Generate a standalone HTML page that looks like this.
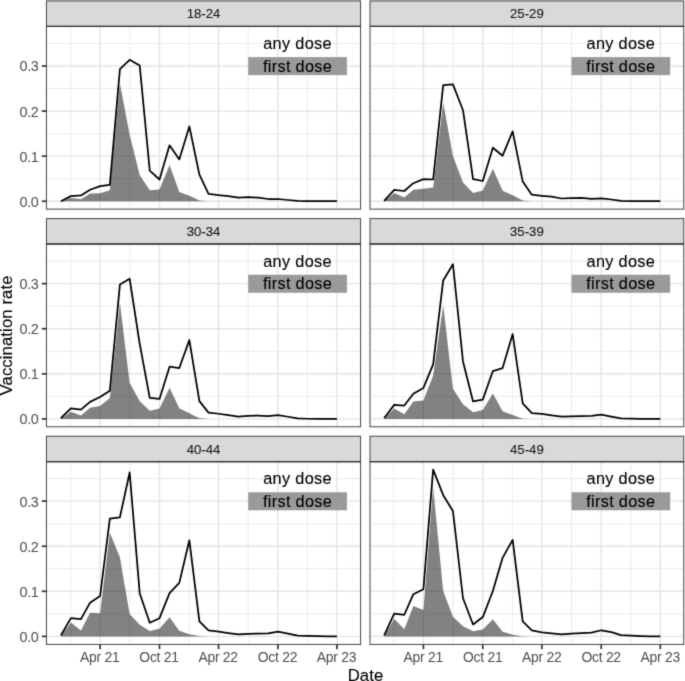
<!DOCTYPE html>
<html><head><meta charset="utf-8"><title>Vaccination rate</title>
<style>html,body{margin:0;padding:0;background:#fff;}svg{will-change:transform;}body{width:685px;height:681px;overflow:hidden;font-family:"Liberation Sans",sans-serif;}</style></head>
<body>
<svg width="685" height="681" viewBox="0 0 685 681" style="display:block;font-family:'Liberation Sans',sans-serif">
<rect x="0" y="0" width="685" height="681" fill="#ffffff"/>
<defs><filter id="soft" color-interpolation-filters="sRGB" x="0" y="0" width="685" height="681" filterUnits="userSpaceOnUse"><feConvolveMatrix order="3" kernelMatrix="0.01690 0.09620 0.01690 0.09620 0.54760 0.09620 0.01690 0.09620 0.01690" edgeMode="duplicate" preserveAlpha="true"/></filter></defs>
<g filter="url(#soft)"><rect x="-5" y="-5" width="695" height="691" fill="#fff"/><g transform="translate(0,0.45)">
<g>
<rect x="46.45" y="25.9" width="314.1" height="182.8" fill="#fff"/>
<line x1="46.45" x2="360.55" y1="178.26" y2="178.26" stroke="#e4e4e4" stroke-width="0.75"/>
<line x1="46.45" x2="360.55" y1="133.18" y2="133.18" stroke="#e4e4e4" stroke-width="0.75"/>
<line x1="46.45" x2="360.55" y1="88.10" y2="88.10" stroke="#e4e4e4" stroke-width="0.75"/>
<line x1="46.45" x2="360.55" y1="43.02" y2="43.02" stroke="#e4e4e4" stroke-width="0.75"/>
<line x1="70.42" x2="70.42" y1="25.9" y2="208.70000000000002" stroke="#e4e4e4" stroke-width="0.75"/>
<line x1="129.81" x2="129.81" y1="25.9" y2="208.70000000000002" stroke="#e4e4e4" stroke-width="0.75"/>
<line x1="189.03" x2="189.03" y1="25.9" y2="208.70000000000002" stroke="#e4e4e4" stroke-width="0.75"/>
<line x1="248.25" x2="248.25" y1="25.9" y2="208.70000000000002" stroke="#e4e4e4" stroke-width="0.75"/>
<line x1="307.47" x2="307.47" y1="25.9" y2="208.70000000000002" stroke="#e4e4e4" stroke-width="0.75"/>
<line x1="46.45" x2="360.55" y1="200.80" y2="200.80" stroke="#e4e4e4" stroke-width="1.4"/>
<line x1="46.45" x2="360.55" y1="155.72" y2="155.72" stroke="#e4e4e4" stroke-width="1.4"/>
<line x1="46.45" x2="360.55" y1="110.64" y2="110.64" stroke="#e4e4e4" stroke-width="1.4"/>
<line x1="46.45" x2="360.55" y1="65.56" y2="65.56" stroke="#e4e4e4" stroke-width="1.4"/>
<line x1="100.11" x2="100.11" y1="25.9" y2="208.70000000000002" stroke="#e4e4e4" stroke-width="1.4"/>
<line x1="159.50" x2="159.50" y1="25.9" y2="208.70000000000002" stroke="#e4e4e4" stroke-width="1.4"/>
<line x1="218.56" x2="218.56" y1="25.9" y2="208.70000000000002" stroke="#e4e4e4" stroke-width="1.4"/>
<line x1="277.94" x2="277.94" y1="25.9" y2="208.70000000000002" stroke="#e4e4e4" stroke-width="1.4"/>
<line x1="337.00" x2="337.00" y1="25.9" y2="208.70000000000002" stroke="#e4e4e4" stroke-width="1.4"/>
<polygon points="60.85,200.75 70.91,197.45 80.97,198.85 90.06,193.05 100.11,192.75 109.85,189.75 119.91,82.85 129.64,134.25 139.70,174.65 149.76,189.75 159.50,189.05 169.56,164.65 179.29,191.55 189.35,195.25 199.41,200.05 208.50,200.80 218.56,200.80 228.29,200.80 238.35,200.80 248.09,200.80 258.15,200.80 268.21,200.80 277.94,200.80 288.00,200.80 297.74,200.80 307.79,200.80 317.85,200.80 326.94,200.80 337.00,200.80 337.00,200.80 60.85,200.80" fill="rgba(0,0,0,0.49)"/>
<polyline points="60.85,200.75 70.91,195.65 80.97,194.95 90.06,189.35 100.11,185.65 109.85,184.45 119.91,68.65 129.64,59.35 139.70,65.05 149.76,170.25 159.50,179.05 169.56,144.85 179.29,158.95 189.35,125.95 199.41,174.25 208.50,193.45 218.56,194.75 228.29,195.65 238.35,197.15 248.09,196.75 258.15,197.15 268.21,198.55 277.94,198.55 288.00,199.55 297.74,200.35 307.79,200.65 317.85,200.75 326.94,200.75 337.00,200.75" fill="none" stroke="#000" stroke-width="1.75" stroke-linejoin="round" stroke-linecap="butt"/>
<rect x="248.20" y="56.64" width="98.70" height="18.03" fill="#9a9a9a"/>
<text x="297.55" y="48.57" font-size="16.3" letter-spacing="0.32" text-anchor="middle" fill="#000" stroke="#000" stroke-width="0.12">any dose</text>
<text x="297.55" y="71.11" font-size="16.3" letter-spacing="0.32" text-anchor="middle" fill="#000" stroke="#000" stroke-width="0.12">first dose</text>
<rect x="46.45" y="25.9" width="314.1" height="182.8" fill="none" stroke="#4d4d4d" stroke-width="1.05"/>
<rect x="46.45" y="0.5" width="314.1" height="25.4" fill="#d9d9d9" stroke="#4d4d4d" stroke-width="1.05"/>
<line x1="46.45" x2="360.55" y1="25.9" y2="25.9" stroke="#333" stroke-width="1.25"/>
<text x="203.50" y="18.00" font-size="13.2" text-anchor="middle" fill="#1a1a1a" stroke="#1a1a1a" stroke-width="0.12">18-24</text>
<line x1="41.75" x2="46.45" y1="200.80" y2="200.80" stroke="#333333" stroke-width="1.7"/>
<text x="38.35" y="206.25" font-size="14.4" letter-spacing="-0.4" text-anchor="end" fill="#4d4d4d">0.0</text>
<line x1="41.75" x2="46.45" y1="155.72" y2="155.72" stroke="#333333" stroke-width="1.7"/>
<text x="38.35" y="161.17" font-size="14.4" letter-spacing="-0.4" text-anchor="end" fill="#4d4d4d">0.1</text>
<line x1="41.75" x2="46.45" y1="110.64" y2="110.64" stroke="#333333" stroke-width="1.7"/>
<text x="38.35" y="116.09" font-size="14.4" letter-spacing="-0.4" text-anchor="end" fill="#4d4d4d">0.2</text>
<line x1="41.75" x2="46.45" y1="65.56" y2="65.56" stroke="#333333" stroke-width="1.7"/>
<text x="38.35" y="71.01" font-size="14.4" letter-spacing="-0.4" text-anchor="end" fill="#4d4d4d">0.3</text>
</g>
<g>
<rect x="370.0" y="25.9" width="313.75" height="182.8" fill="#fff"/>
<line x1="370.0" x2="683.75" y1="178.26" y2="178.26" stroke="#e4e4e4" stroke-width="0.75"/>
<line x1="370.0" x2="683.75" y1="133.18" y2="133.18" stroke="#e4e4e4" stroke-width="0.75"/>
<line x1="370.0" x2="683.75" y1="88.10" y2="88.10" stroke="#e4e4e4" stroke-width="0.75"/>
<line x1="370.0" x2="683.75" y1="43.02" y2="43.02" stroke="#e4e4e4" stroke-width="0.75"/>
<line x1="393.72" x2="393.72" y1="25.9" y2="208.70000000000002" stroke="#e4e4e4" stroke-width="0.75"/>
<line x1="453.11" x2="453.11" y1="25.9" y2="208.70000000000002" stroke="#e4e4e4" stroke-width="0.75"/>
<line x1="512.33" x2="512.33" y1="25.9" y2="208.70000000000002" stroke="#e4e4e4" stroke-width="0.75"/>
<line x1="571.55" x2="571.55" y1="25.9" y2="208.70000000000002" stroke="#e4e4e4" stroke-width="0.75"/>
<line x1="630.77" x2="630.77" y1="25.9" y2="208.70000000000002" stroke="#e4e4e4" stroke-width="0.75"/>
<line x1="370.0" x2="683.75" y1="200.80" y2="200.80" stroke="#e4e4e4" stroke-width="1.4"/>
<line x1="370.0" x2="683.75" y1="155.72" y2="155.72" stroke="#e4e4e4" stroke-width="1.4"/>
<line x1="370.0" x2="683.75" y1="110.64" y2="110.64" stroke="#e4e4e4" stroke-width="1.4"/>
<line x1="370.0" x2="683.75" y1="65.56" y2="65.56" stroke="#e4e4e4" stroke-width="1.4"/>
<line x1="423.41" x2="423.41" y1="25.9" y2="208.70000000000002" stroke="#e4e4e4" stroke-width="1.4"/>
<line x1="482.80" x2="482.80" y1="25.9" y2="208.70000000000002" stroke="#e4e4e4" stroke-width="1.4"/>
<line x1="541.86" x2="541.86" y1="25.9" y2="208.70000000000002" stroke="#e4e4e4" stroke-width="1.4"/>
<line x1="601.24" x2="601.24" y1="25.9" y2="208.70000000000002" stroke="#e4e4e4" stroke-width="1.4"/>
<line x1="660.30" x2="660.30" y1="25.9" y2="208.70000000000002" stroke="#e4e4e4" stroke-width="1.4"/>
<polygon points="384.15,200.75 394.21,192.55 404.27,196.95 413.36,189.35 423.41,188.35 433.15,187.15 443.21,102.35 452.94,155.55 463.00,182.05 473.06,192.55 482.80,190.05 492.86,168.35 502.59,190.35 512.65,194.75 522.71,200.05 531.80,200.80 541.86,200.80 551.59,200.80 561.65,200.80 571.39,200.80 581.45,200.80 591.51,200.80 601.24,200.80 611.30,200.80 621.04,200.80 631.09,200.80 641.15,200.80 650.24,200.80 660.30,200.80 660.30,200.80 384.15,200.80" fill="rgba(0,0,0,0.49)"/>
<polyline points="384.15,200.35 394.21,189.35 404.27,190.55 413.36,182.75 423.41,178.65 433.15,179.05 443.21,84.65 452.94,83.95 463.00,109.75 473.06,178.75 482.80,180.55 492.86,147.25 502.59,155.25 512.65,130.95 522.71,180.95 531.80,194.25 541.86,195.35 551.59,196.25 561.65,198.05 571.39,197.65 581.45,197.45 591.51,198.35 601.24,197.95 611.30,199.05 621.04,200.35 631.09,200.65 641.15,200.75 650.24,200.75 660.30,200.75" fill="none" stroke="#000" stroke-width="1.75" stroke-linejoin="round" stroke-linecap="butt"/>
<rect x="571.50" y="56.64" width="98.70" height="18.03" fill="#9a9a9a"/>
<text x="620.85" y="48.57" font-size="16.3" letter-spacing="0.32" text-anchor="middle" fill="#000" stroke="#000" stroke-width="0.12">any dose</text>
<text x="620.85" y="71.11" font-size="16.3" letter-spacing="0.32" text-anchor="middle" fill="#000" stroke="#000" stroke-width="0.12">first dose</text>
<rect x="370.0" y="25.9" width="313.75" height="182.8" fill="none" stroke="#4d4d4d" stroke-width="1.05"/>
<rect x="370.0" y="0.5" width="313.75" height="25.4" fill="#d9d9d9" stroke="#4d4d4d" stroke-width="1.05"/>
<line x1="370.0" x2="683.75" y1="25.9" y2="25.9" stroke="#333" stroke-width="1.25"/>
<text x="526.88" y="18.00" font-size="13.2" text-anchor="middle" fill="#1a1a1a" stroke="#1a1a1a" stroke-width="0.12">25-29</text>
</g>
<g>
<rect x="46.45" y="243.5" width="314.1" height="182.8" fill="#fff"/>
<line x1="46.45" x2="360.55" y1="395.91" y2="395.91" stroke="#e4e4e4" stroke-width="0.75"/>
<line x1="46.45" x2="360.55" y1="350.83" y2="350.83" stroke="#e4e4e4" stroke-width="0.75"/>
<line x1="46.45" x2="360.55" y1="305.75" y2="305.75" stroke="#e4e4e4" stroke-width="0.75"/>
<line x1="46.45" x2="360.55" y1="260.67" y2="260.67" stroke="#e4e4e4" stroke-width="0.75"/>
<line x1="70.42" x2="70.42" y1="243.5" y2="426.3" stroke="#e4e4e4" stroke-width="0.75"/>
<line x1="129.81" x2="129.81" y1="243.5" y2="426.3" stroke="#e4e4e4" stroke-width="0.75"/>
<line x1="189.03" x2="189.03" y1="243.5" y2="426.3" stroke="#e4e4e4" stroke-width="0.75"/>
<line x1="248.25" x2="248.25" y1="243.5" y2="426.3" stroke="#e4e4e4" stroke-width="0.75"/>
<line x1="307.47" x2="307.47" y1="243.5" y2="426.3" stroke="#e4e4e4" stroke-width="0.75"/>
<line x1="46.45" x2="360.55" y1="418.45" y2="418.45" stroke="#e4e4e4" stroke-width="1.4"/>
<line x1="46.45" x2="360.55" y1="373.37" y2="373.37" stroke="#e4e4e4" stroke-width="1.4"/>
<line x1="46.45" x2="360.55" y1="328.29" y2="328.29" stroke="#e4e4e4" stroke-width="1.4"/>
<line x1="46.45" x2="360.55" y1="283.21" y2="283.21" stroke="#e4e4e4" stroke-width="1.4"/>
<line x1="100.11" x2="100.11" y1="243.5" y2="426.3" stroke="#e4e4e4" stroke-width="1.4"/>
<line x1="159.50" x2="159.50" y1="243.5" y2="426.3" stroke="#e4e4e4" stroke-width="1.4"/>
<line x1="218.56" x2="218.56" y1="243.5" y2="426.3" stroke="#e4e4e4" stroke-width="1.4"/>
<line x1="277.94" x2="277.94" y1="243.5" y2="426.3" stroke="#e4e4e4" stroke-width="1.4"/>
<line x1="337.00" x2="337.00" y1="243.5" y2="426.3" stroke="#e4e4e4" stroke-width="1.4"/>
<polygon points="60.85,418.45 70.91,411.30 80.97,415.10 90.06,407.30 100.11,405.50 109.85,397.50 119.91,302.20 129.64,382.30 139.70,400.80 149.76,410.20 159.50,408.00 169.56,387.20 179.29,407.70 189.35,412.70 199.41,417.90 208.50,418.45 218.56,418.45 228.29,418.45 238.35,418.45 248.09,418.45 258.15,418.45 268.21,418.45 277.94,418.45 288.00,418.45 297.74,418.45 307.79,418.45 317.85,418.45 326.94,418.45 337.00,418.45 337.00,418.45 60.85,418.45" fill="rgba(0,0,0,0.49)"/>
<polyline points="60.85,417.80 70.91,408.00 80.97,409.10 90.06,401.40 100.11,396.60 109.85,390.40 119.91,284.10 129.64,278.30 139.70,343.30 149.76,397.50 159.50,398.50 169.56,366.20 179.29,367.60 189.35,339.70 199.41,400.70 208.50,412.20 218.56,413.30 228.29,414.70 238.35,416.20 248.09,415.40 258.15,415.10 268.21,415.60 277.94,414.70 288.00,416.30 297.74,418.00 307.79,418.30 317.85,418.40 326.94,418.45 337.00,418.45" fill="none" stroke="#000" stroke-width="1.75" stroke-linejoin="round" stroke-linecap="butt"/>
<rect x="248.20" y="274.29" width="98.70" height="18.03" fill="#9a9a9a"/>
<text x="297.55" y="266.22" font-size="16.3" letter-spacing="0.32" text-anchor="middle" fill="#000" stroke="#000" stroke-width="0.12">any dose</text>
<text x="297.55" y="288.76" font-size="16.3" letter-spacing="0.32" text-anchor="middle" fill="#000" stroke="#000" stroke-width="0.12">first dose</text>
<rect x="46.45" y="243.5" width="314.1" height="182.8" fill="none" stroke="#4d4d4d" stroke-width="1.05"/>
<rect x="46.45" y="218.1" width="314.1" height="25.4" fill="#d9d9d9" stroke="#4d4d4d" stroke-width="1.05"/>
<line x1="46.45" x2="360.55" y1="243.5" y2="243.5" stroke="#333" stroke-width="1.25"/>
<text x="203.50" y="235.60" font-size="13.2" text-anchor="middle" fill="#1a1a1a" stroke="#1a1a1a" stroke-width="0.12">30-34</text>
<line x1="41.75" x2="46.45" y1="418.45" y2="418.45" stroke="#333333" stroke-width="1.7"/>
<text x="38.35" y="423.90" font-size="14.4" letter-spacing="-0.4" text-anchor="end" fill="#4d4d4d">0.0</text>
<line x1="41.75" x2="46.45" y1="373.37" y2="373.37" stroke="#333333" stroke-width="1.7"/>
<text x="38.35" y="378.82" font-size="14.4" letter-spacing="-0.4" text-anchor="end" fill="#4d4d4d">0.1</text>
<line x1="41.75" x2="46.45" y1="328.29" y2="328.29" stroke="#333333" stroke-width="1.7"/>
<text x="38.35" y="333.74" font-size="14.4" letter-spacing="-0.4" text-anchor="end" fill="#4d4d4d">0.2</text>
<line x1="41.75" x2="46.45" y1="283.21" y2="283.21" stroke="#333333" stroke-width="1.7"/>
<text x="38.35" y="288.66" font-size="14.4" letter-spacing="-0.4" text-anchor="end" fill="#4d4d4d">0.3</text>
</g>
<g>
<rect x="370.0" y="243.5" width="313.75" height="182.8" fill="#fff"/>
<line x1="370.0" x2="683.75" y1="395.91" y2="395.91" stroke="#e4e4e4" stroke-width="0.75"/>
<line x1="370.0" x2="683.75" y1="350.83" y2="350.83" stroke="#e4e4e4" stroke-width="0.75"/>
<line x1="370.0" x2="683.75" y1="305.75" y2="305.75" stroke="#e4e4e4" stroke-width="0.75"/>
<line x1="370.0" x2="683.75" y1="260.67" y2="260.67" stroke="#e4e4e4" stroke-width="0.75"/>
<line x1="393.72" x2="393.72" y1="243.5" y2="426.3" stroke="#e4e4e4" stroke-width="0.75"/>
<line x1="453.11" x2="453.11" y1="243.5" y2="426.3" stroke="#e4e4e4" stroke-width="0.75"/>
<line x1="512.33" x2="512.33" y1="243.5" y2="426.3" stroke="#e4e4e4" stroke-width="0.75"/>
<line x1="571.55" x2="571.55" y1="243.5" y2="426.3" stroke="#e4e4e4" stroke-width="0.75"/>
<line x1="630.77" x2="630.77" y1="243.5" y2="426.3" stroke="#e4e4e4" stroke-width="0.75"/>
<line x1="370.0" x2="683.75" y1="418.45" y2="418.45" stroke="#e4e4e4" stroke-width="1.4"/>
<line x1="370.0" x2="683.75" y1="373.37" y2="373.37" stroke="#e4e4e4" stroke-width="1.4"/>
<line x1="370.0" x2="683.75" y1="328.29" y2="328.29" stroke="#e4e4e4" stroke-width="1.4"/>
<line x1="370.0" x2="683.75" y1="283.21" y2="283.21" stroke="#e4e4e4" stroke-width="1.4"/>
<line x1="423.41" x2="423.41" y1="243.5" y2="426.3" stroke="#e4e4e4" stroke-width="1.4"/>
<line x1="482.80" x2="482.80" y1="243.5" y2="426.3" stroke="#e4e4e4" stroke-width="1.4"/>
<line x1="541.86" x2="541.86" y1="243.5" y2="426.3" stroke="#e4e4e4" stroke-width="1.4"/>
<line x1="601.24" x2="601.24" y1="243.5" y2="426.3" stroke="#e4e4e4" stroke-width="1.4"/>
<line x1="660.30" x2="660.30" y1="243.5" y2="426.3" stroke="#e4e4e4" stroke-width="1.4"/>
<polygon points="384.15,418.45 394.21,408.00 404.27,413.90 413.36,401.10 423.41,400.00 433.15,375.00 443.21,304.80 452.94,388.20 463.00,403.90 473.06,411.70 482.80,409.50 492.86,393.00 502.59,410.70 512.65,414.60 522.71,418.20 531.80,418.45 541.86,418.45 551.59,418.45 561.65,418.45 571.39,418.45 581.45,418.45 591.51,418.45 601.24,418.45 611.30,418.45 621.04,418.45 631.09,418.45 641.15,418.45 650.24,418.45 660.30,418.45 660.30,418.45 384.15,418.45" fill="rgba(0,0,0,0.49)"/>
<polyline points="384.15,417.80 394.21,404.40 404.27,405.10 413.36,393.30 423.41,387.50 433.15,364.00 443.21,280.00 452.94,263.80 463.00,361.00 473.06,401.00 482.80,399.20 492.86,370.60 502.59,367.60 512.65,333.60 522.71,402.90 531.80,412.60 541.86,413.50 551.59,414.90 561.65,416.20 571.39,415.90 581.45,415.60 591.51,415.40 601.24,414.20 611.30,416.10 621.04,418.00 631.09,418.20 641.15,418.40 650.24,418.45 660.30,418.45" fill="none" stroke="#000" stroke-width="1.75" stroke-linejoin="round" stroke-linecap="butt"/>
<rect x="571.50" y="274.29" width="98.70" height="18.03" fill="#9a9a9a"/>
<text x="620.85" y="266.22" font-size="16.3" letter-spacing="0.32" text-anchor="middle" fill="#000" stroke="#000" stroke-width="0.12">any dose</text>
<text x="620.85" y="288.76" font-size="16.3" letter-spacing="0.32" text-anchor="middle" fill="#000" stroke="#000" stroke-width="0.12">first dose</text>
<rect x="370.0" y="243.5" width="313.75" height="182.8" fill="none" stroke="#4d4d4d" stroke-width="1.05"/>
<rect x="370.0" y="218.1" width="313.75" height="25.4" fill="#d9d9d9" stroke="#4d4d4d" stroke-width="1.05"/>
<line x1="370.0" x2="683.75" y1="243.5" y2="243.5" stroke="#333" stroke-width="1.25"/>
<text x="526.88" y="235.60" font-size="13.2" text-anchor="middle" fill="#1a1a1a" stroke="#1a1a1a" stroke-width="0.12">35-39</text>
</g>
<g>
<rect x="46.45" y="461.2" width="314.1" height="182.8" fill="#fff"/>
<line x1="46.45" x2="360.55" y1="613.41" y2="613.41" stroke="#e4e4e4" stroke-width="0.75"/>
<line x1="46.45" x2="360.55" y1="568.33" y2="568.33" stroke="#e4e4e4" stroke-width="0.75"/>
<line x1="46.45" x2="360.55" y1="523.25" y2="523.25" stroke="#e4e4e4" stroke-width="0.75"/>
<line x1="46.45" x2="360.55" y1="478.17" y2="478.17" stroke="#e4e4e4" stroke-width="0.75"/>
<line x1="70.42" x2="70.42" y1="461.2" y2="644.0" stroke="#e4e4e4" stroke-width="0.75"/>
<line x1="129.81" x2="129.81" y1="461.2" y2="644.0" stroke="#e4e4e4" stroke-width="0.75"/>
<line x1="189.03" x2="189.03" y1="461.2" y2="644.0" stroke="#e4e4e4" stroke-width="0.75"/>
<line x1="248.25" x2="248.25" y1="461.2" y2="644.0" stroke="#e4e4e4" stroke-width="0.75"/>
<line x1="307.47" x2="307.47" y1="461.2" y2="644.0" stroke="#e4e4e4" stroke-width="0.75"/>
<line x1="46.45" x2="360.55" y1="635.95" y2="635.95" stroke="#e4e4e4" stroke-width="1.4"/>
<line x1="46.45" x2="360.55" y1="590.87" y2="590.87" stroke="#e4e4e4" stroke-width="1.4"/>
<line x1="46.45" x2="360.55" y1="545.79" y2="545.79" stroke="#e4e4e4" stroke-width="1.4"/>
<line x1="46.45" x2="360.55" y1="500.71" y2="500.71" stroke="#e4e4e4" stroke-width="1.4"/>
<line x1="100.11" x2="100.11" y1="461.2" y2="644.0" stroke="#e4e4e4" stroke-width="1.4"/>
<line x1="159.50" x2="159.50" y1="461.2" y2="644.0" stroke="#e4e4e4" stroke-width="1.4"/>
<line x1="218.56" x2="218.56" y1="461.2" y2="644.0" stroke="#e4e4e4" stroke-width="1.4"/>
<line x1="277.94" x2="277.94" y1="461.2" y2="644.0" stroke="#e4e4e4" stroke-width="1.4"/>
<line x1="337.00" x2="337.00" y1="461.2" y2="644.0" stroke="#e4e4e4" stroke-width="1.4"/>
<polygon points="60.85,635.92 70.91,622.12 80.97,630.12 90.06,612.22 100.11,612.82 109.85,532.42 119.91,556.72 129.64,613.52 139.70,624.32 149.76,630.62 159.50,628.42 169.56,616.92 179.29,630.42 189.35,633.82 199.41,635.62 208.50,635.95 218.56,635.95 228.29,635.95 238.35,635.95 248.09,635.95 258.15,635.95 268.21,635.95 277.94,635.95 288.00,635.95 297.74,635.95 307.79,635.95 317.85,635.95 326.94,635.95 337.00,635.95 337.00,635.95 60.85,635.95" fill="rgba(0,0,0,0.49)"/>
<polyline points="60.85,635.02 70.91,617.72 80.97,618.72 90.06,602.22 100.11,595.62 109.85,518.22 119.91,516.82 129.64,472.02 139.70,592.72 149.76,622.32 159.50,617.72 169.56,592.72 179.29,582.42 189.35,539.82 199.41,621.02 208.50,629.92 218.56,631.22 228.29,632.62 238.35,633.92 248.09,633.32 258.15,633.12 268.21,632.82 277.94,631.22 288.00,633.12 297.74,635.22 307.79,635.42 317.85,635.72 326.94,635.82 337.00,635.92" fill="none" stroke="#000" stroke-width="1.75" stroke-linejoin="round" stroke-linecap="butt"/>
<rect x="248.20" y="491.79" width="98.70" height="18.03" fill="#9a9a9a"/>
<text x="297.55" y="483.72" font-size="16.3" letter-spacing="0.32" text-anchor="middle" fill="#000" stroke="#000" stroke-width="0.12">any dose</text>
<text x="297.55" y="506.26" font-size="16.3" letter-spacing="0.32" text-anchor="middle" fill="#000" stroke="#000" stroke-width="0.12">first dose</text>
<rect x="46.45" y="461.2" width="314.1" height="182.8" fill="none" stroke="#4d4d4d" stroke-width="1.05"/>
<rect x="46.45" y="435.8" width="314.1" height="25.4" fill="#d9d9d9" stroke="#4d4d4d" stroke-width="1.05"/>
<line x1="46.45" x2="360.55" y1="461.2" y2="461.2" stroke="#333" stroke-width="1.25"/>
<text x="203.50" y="453.30" font-size="13.2" text-anchor="middle" fill="#1a1a1a" stroke="#1a1a1a" stroke-width="0.12">40-44</text>
<line x1="41.75" x2="46.45" y1="635.95" y2="635.95" stroke="#333333" stroke-width="1.7"/>
<text x="38.35" y="641.40" font-size="14.4" letter-spacing="-0.4" text-anchor="end" fill="#4d4d4d">0.0</text>
<line x1="41.75" x2="46.45" y1="590.87" y2="590.87" stroke="#333333" stroke-width="1.7"/>
<text x="38.35" y="596.32" font-size="14.4" letter-spacing="-0.4" text-anchor="end" fill="#4d4d4d">0.1</text>
<line x1="41.75" x2="46.45" y1="545.79" y2="545.79" stroke="#333333" stroke-width="1.7"/>
<text x="38.35" y="551.24" font-size="14.4" letter-spacing="-0.4" text-anchor="end" fill="#4d4d4d">0.2</text>
<line x1="41.75" x2="46.45" y1="500.71" y2="500.71" stroke="#333333" stroke-width="1.7"/>
<text x="38.35" y="506.16" font-size="14.4" letter-spacing="-0.4" text-anchor="end" fill="#4d4d4d">0.3</text>
<line x1="100.11" x2="100.11" y1="644.0" y2="648.7" stroke="#333333" stroke-width="1.7"/>
<text x="99.66" y="661.5" font-size="13.9" letter-spacing="-0.25" text-anchor="middle" fill="#4d4d4d">Apr 21</text>
<line x1="159.50" x2="159.50" y1="644.0" y2="648.7" stroke="#333333" stroke-width="1.7"/>
<text x="159.05" y="661.5" font-size="13.9" letter-spacing="-0.25" text-anchor="middle" fill="#4d4d4d">Oct 21</text>
<line x1="218.56" x2="218.56" y1="644.0" y2="648.7" stroke="#333333" stroke-width="1.7"/>
<text x="218.11" y="661.5" font-size="13.9" letter-spacing="-0.25" text-anchor="middle" fill="#4d4d4d">Apr 22</text>
<line x1="277.94" x2="277.94" y1="644.0" y2="648.7" stroke="#333333" stroke-width="1.7"/>
<text x="277.49" y="661.5" font-size="13.9" letter-spacing="-0.25" text-anchor="middle" fill="#4d4d4d">Oct 22</text>
<line x1="337.00" x2="337.00" y1="644.0" y2="648.7" stroke="#333333" stroke-width="1.7"/>
<text x="336.55" y="661.5" font-size="13.9" letter-spacing="-0.25" text-anchor="middle" fill="#4d4d4d">Apr 23</text>
</g>
<g>
<rect x="370.0" y="461.2" width="313.75" height="182.8" fill="#fff"/>
<line x1="370.0" x2="683.75" y1="613.41" y2="613.41" stroke="#e4e4e4" stroke-width="0.75"/>
<line x1="370.0" x2="683.75" y1="568.33" y2="568.33" stroke="#e4e4e4" stroke-width="0.75"/>
<line x1="370.0" x2="683.75" y1="523.25" y2="523.25" stroke="#e4e4e4" stroke-width="0.75"/>
<line x1="370.0" x2="683.75" y1="478.17" y2="478.17" stroke="#e4e4e4" stroke-width="0.75"/>
<line x1="393.72" x2="393.72" y1="461.2" y2="644.0" stroke="#e4e4e4" stroke-width="0.75"/>
<line x1="453.11" x2="453.11" y1="461.2" y2="644.0" stroke="#e4e4e4" stroke-width="0.75"/>
<line x1="512.33" x2="512.33" y1="461.2" y2="644.0" stroke="#e4e4e4" stroke-width="0.75"/>
<line x1="571.55" x2="571.55" y1="461.2" y2="644.0" stroke="#e4e4e4" stroke-width="0.75"/>
<line x1="630.77" x2="630.77" y1="461.2" y2="644.0" stroke="#e4e4e4" stroke-width="0.75"/>
<line x1="370.0" x2="683.75" y1="635.95" y2="635.95" stroke="#e4e4e4" stroke-width="1.4"/>
<line x1="370.0" x2="683.75" y1="590.87" y2="590.87" stroke="#e4e4e4" stroke-width="1.4"/>
<line x1="370.0" x2="683.75" y1="545.79" y2="545.79" stroke="#e4e4e4" stroke-width="1.4"/>
<line x1="370.0" x2="683.75" y1="500.71" y2="500.71" stroke="#e4e4e4" stroke-width="1.4"/>
<line x1="423.41" x2="423.41" y1="461.2" y2="644.0" stroke="#e4e4e4" stroke-width="1.4"/>
<line x1="482.80" x2="482.80" y1="461.2" y2="644.0" stroke="#e4e4e4" stroke-width="1.4"/>
<line x1="541.86" x2="541.86" y1="461.2" y2="644.0" stroke="#e4e4e4" stroke-width="1.4"/>
<line x1="601.24" x2="601.24" y1="461.2" y2="644.0" stroke="#e4e4e4" stroke-width="1.4"/>
<line x1="660.30" x2="660.30" y1="461.2" y2="644.0" stroke="#e4e4e4" stroke-width="1.4"/>
<polygon points="384.15,635.92 394.21,618.42 404.27,628.72 413.36,605.62 423.41,609.62 433.15,487.12 443.21,590.52 452.94,616.22 463.00,625.72 473.06,630.92 482.80,629.02 492.86,618.72 502.59,631.32 512.65,634.22 522.71,635.72 531.80,635.95 541.86,635.95 551.59,635.95 561.65,635.95 571.39,635.95 581.45,635.95 591.51,635.95 601.24,635.95 611.30,635.95 621.04,635.95 631.09,635.95 641.15,635.95 650.24,635.95 660.30,635.95 660.30,635.95 384.15,635.95" fill="rgba(0,0,0,0.49)"/>
<polyline points="384.15,635.02 394.21,613.22 404.27,614.32 413.36,593.72 423.41,588.72 433.15,469.12 443.21,494.72 452.94,510.62 463.00,597.82 473.06,624.02 482.80,616.62 492.86,590.52 502.59,557.42 512.65,539.42 522.71,621.02 531.80,629.82 541.86,631.82 551.59,632.92 561.65,634.02 571.39,633.12 581.45,632.62 591.51,632.12 601.24,629.82 611.30,631.72 621.04,634.72 631.09,635.22 641.15,635.67 650.24,635.92 660.30,635.92" fill="none" stroke="#000" stroke-width="1.75" stroke-linejoin="round" stroke-linecap="butt"/>
<rect x="571.50" y="491.79" width="98.70" height="18.03" fill="#9a9a9a"/>
<text x="620.85" y="483.72" font-size="16.3" letter-spacing="0.32" text-anchor="middle" fill="#000" stroke="#000" stroke-width="0.12">any dose</text>
<text x="620.85" y="506.26" font-size="16.3" letter-spacing="0.32" text-anchor="middle" fill="#000" stroke="#000" stroke-width="0.12">first dose</text>
<rect x="370.0" y="461.2" width="313.75" height="182.8" fill="none" stroke="#4d4d4d" stroke-width="1.05"/>
<rect x="370.0" y="435.8" width="313.75" height="25.4" fill="#d9d9d9" stroke="#4d4d4d" stroke-width="1.05"/>
<line x1="370.0" x2="683.75" y1="461.2" y2="461.2" stroke="#333" stroke-width="1.25"/>
<text x="526.88" y="453.30" font-size="13.2" text-anchor="middle" fill="#1a1a1a" stroke="#1a1a1a" stroke-width="0.12">45-49</text>
<line x1="423.41" x2="423.41" y1="644.0" y2="648.7" stroke="#333333" stroke-width="1.7"/>
<text x="423.31" y="661.5" font-size="13.9" letter-spacing="-0.25" text-anchor="middle" fill="#4d4d4d">Apr 21</text>
<line x1="482.80" x2="482.80" y1="644.0" y2="648.7" stroke="#333333" stroke-width="1.7"/>
<text x="482.70" y="661.5" font-size="13.9" letter-spacing="-0.25" text-anchor="middle" fill="#4d4d4d">Oct 21</text>
<line x1="541.86" x2="541.86" y1="644.0" y2="648.7" stroke="#333333" stroke-width="1.7"/>
<text x="541.76" y="661.5" font-size="13.9" letter-spacing="-0.25" text-anchor="middle" fill="#4d4d4d">Apr 22</text>
<line x1="601.24" x2="601.24" y1="644.0" y2="648.7" stroke="#333333" stroke-width="1.7"/>
<text x="601.14" y="661.5" font-size="13.9" letter-spacing="-0.25" text-anchor="middle" fill="#4d4d4d">Oct 22</text>
<line x1="660.30" x2="660.30" y1="644.0" y2="648.7" stroke="#333333" stroke-width="1.7"/>
<text x="660.20" y="661.5" font-size="13.9" letter-spacing="-0.25" text-anchor="middle" fill="#4d4d4d">Apr 23</text>
</g>
<text x="365.5" y="680.2" font-size="16.7" letter-spacing="0.05" text-anchor="middle" fill="#000" stroke="#000" stroke-width="0.12">Date</text>
<text transform="translate(12.35,335.0) rotate(-90)" font-size="16.7" letter-spacing="0.1" text-anchor="middle" fill="#000" stroke="#000" stroke-width="0.12">Vaccination rate</text>
</g></g>
</svg>
</body></html>
